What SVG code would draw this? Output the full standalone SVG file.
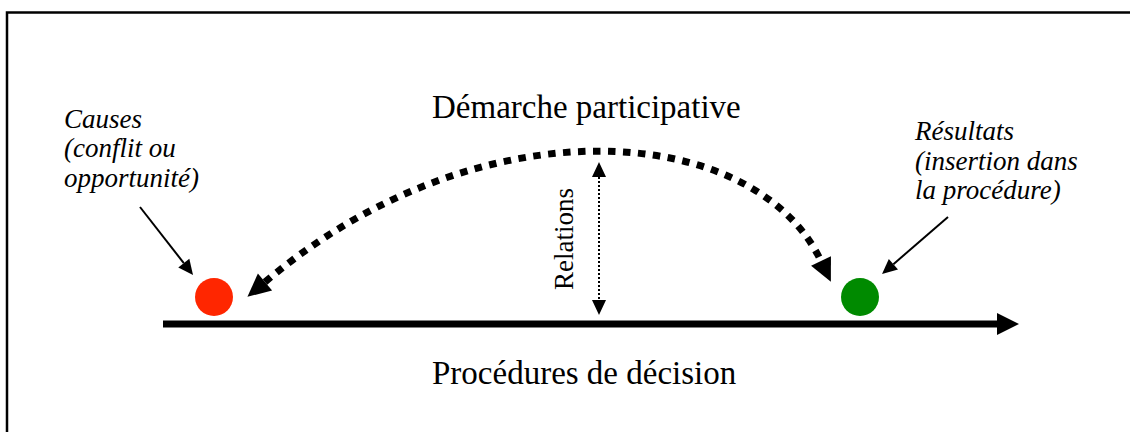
<svg xmlns="http://www.w3.org/2000/svg" width="1130" height="432" viewBox="0 0 1130 432">
<style>
.t{font-family:"Liberation Serif","Times New Roman",serif;fill:#000}
.big{font-size:33px}
.it{font-size:27px;font-style:italic}
.rel{font-size:27px}
</style>
<defs>
<marker id="bigHead" markerUnits="userSpaceOnUse" markerWidth="24" markerHeight="22" refX="0" refY="11" orient="auto-start-reverse" overflow="visible">
<path d="M0,0 L23,11 L0,22 z" fill="#000"/>
</marker>
<marker id="mainHead" markerUnits="userSpaceOnUse" markerWidth="23" markerHeight="22" refX="0" refY="11" orient="auto" overflow="visible">
<path d="M0,0 L22,11 L0,22 z" fill="#000"/>
</marker>
<marker id="smallHead" markerUnits="userSpaceOnUse" markerWidth="15" markerHeight="14" refX="0" refY="7" orient="auto-start-reverse" overflow="visible">
<path d="M0,0 L15,7 L0,14 z" fill="#000"/>
</marker>
</defs>
<rect x="0" y="0" width="1130" height="432" fill="#fff"/>
<rect id="frame" x="7" y="12.5" width="1140" height="440" fill="none" stroke="#000" stroke-width="2.5"/>

<g id="connectors" fill="none" stroke="#000">
<line x1="163" y1="324" x2="997" y2="324" stroke-width="7" marker-end="url(#mainHead)"/>
<path d="M265,282 C480,100 755,122 821,261" stroke-width="7" stroke-dasharray="7.5 7.5" marker-start="url(#bigHead)" marker-end="url(#bigHead)"/>
<line x1="599" y1="177" x2="599" y2="300" stroke-width="2" stroke-dasharray="2 2" marker-start="url(#smallHead)" marker-end="url(#smallHead)"/>
<line x1="140" y1="207" x2="183.8" y2="263.1" stroke-width="2" marker-end="url(#smallHead)"/>
<line x1="948" y1="217" x2="893.4" y2="264.2" stroke-width="2" marker-end="url(#smallHead)"/>
</g>

<g id="causes-node">
<circle cx="214" cy="297" r="19" fill="#ff2600"/>
<text class="t it" x="64"><tspan x="64" y="128">Causes</tspan><tspan x="64" y="157">(conflit ou</tspan><tspan x="64" y="187">opportunité)</tspan></text>
</g>
<g id="resultats-node">
<circle cx="860" cy="297" r="19" fill="#008a00"/>
<text class="t it" x="915"><tspan x="915" y="140">Résultats</tspan><tspan x="915" y="170">(insertion dans</tspan><tspan x="915" y="199">la procédure)</tspan></text>
</g>
<g id="demarche-label">
<text class="t big" x="432" y="118">Démarche participative</text>
</g>
<g id="relations-label">
<text class="t rel" transform="translate(573,290) rotate(-90)">Relations</text>
</g>
<g id="procedures-label">
<text class="t big" x="432" y="384">Procédures de décision</text>
</g>
</svg>
